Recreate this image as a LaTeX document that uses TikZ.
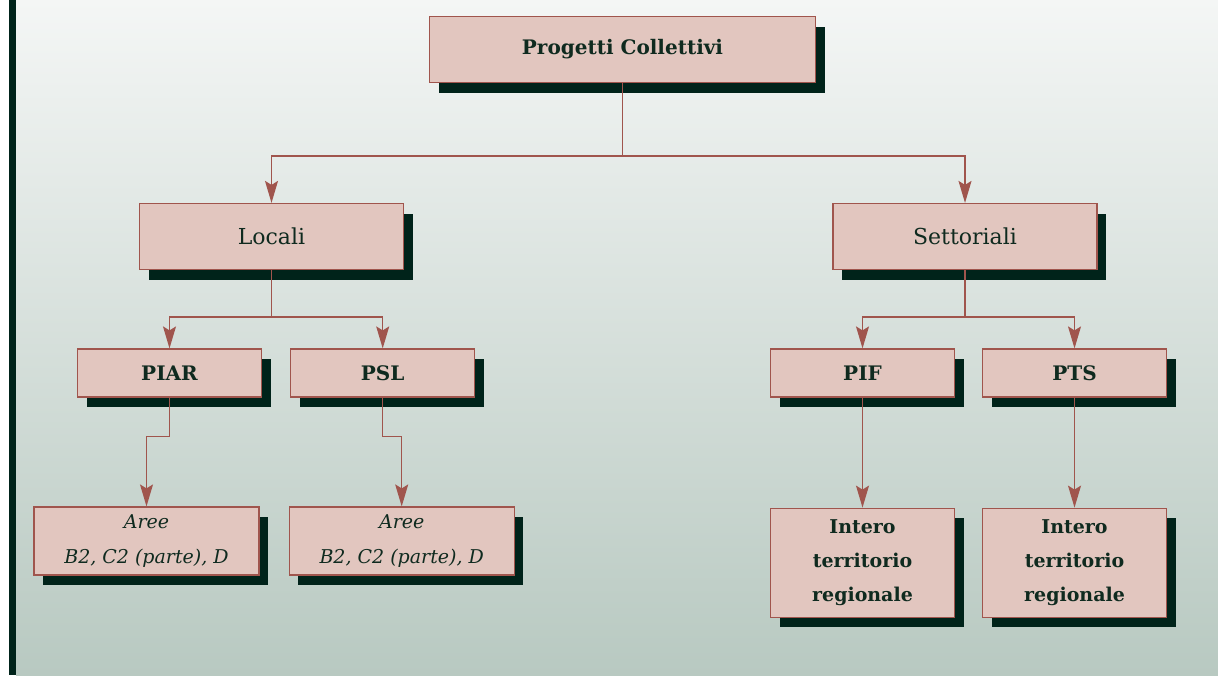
\documentclass[tikz,border=0pt]{standalone}
\usepackage{fontspec}
\setmainfont{DejaVu Serif}
\usetikzlibrary{arrows.meta, positioning, calc, shadows}
\definecolor{kbgtop}{HTML}{F4F6F5}
\definecolor{kbgbot}{HTML}{B8C9C1}
\definecolor{kshadow}{HTML}{00231A}
\definecolor{kfill}{HTML}{E2C6BF}
\definecolor{kline}{HTML}{A0554D}
\definecolor{ktext}{HTML}{0F2A1F}

\begin{document}
\begin{tikzpicture}[x=0.5pt, y=-0.5pt]

\tikzstyle{box} = [rectangle, draw=kline, line width=0.6pt, fill=kfill, text=ktext, inner sep=2pt, align=center, drop shadow={shadow xshift=4.5pt, shadow yshift=-5pt, fill=kshadow, opacity=1}]
\tikzstyle{topbox} = [box, minimum width=193pt, minimum height=33pt, font=\bfseries\fontsize{10}{12}\selectfont]
\tikzstyle{midbox} = [box, minimum width=132pt, minimum height=33pt, font=\fontsize{11}{13}\selectfont]
\tikzstyle{subbox} = [box, minimum width=92pt, minimum height=24pt, font=\bfseries\fontsize{10}{12}\selectfont]
\tikzstyle{areabox} = [box, minimum width=112.5pt, minimum height=34pt, font=\itshape\fontsize{9.5}{17.5}\selectfont]
\tikzstyle{terrbox} = [box, minimum width=92pt, minimum height=54.5pt, font=\bfseries\fontsize{9.5}{17}\selectfont]
\tikzstyle{line} = [kline, line width=0.65pt]
\tikzstyle{arrow} = [line, -{Stealth[length=11pt, width=6.5pt, inset=2pt]}]

% Background
\useasboundingbox (0,0) rectangle (1218,675);
\fill[white] (0,0) rectangle (9,675);
\shade[top color=kbgtop, bottom color=kbgbot] (16,0) rectangle (1218,675);
\fill[kshadow] (9,0) rectangle (16,675);

% Level 1
\node[topbox] (progetti) at (622.5,49.5) {Progetti Collettivi};

% Level 2
\node[midbox] (locali) at (271.5,236.5) {Locali};
\node[midbox] (settoriali) at (965,236.5) {Settoriali};

% Level 3
\node[subbox] (piar) at (169.5,373) {PIAR};
\node[subbox, right=14pt of piar] (psl) {PSL};
\node[subbox] (pif) at (862.5,373) {PIF};
\node[subbox] (pts) at (1074.5,373) {PTS};

% Level 4
\node[areabox] (areeA) at (146.5,541) {Aree\\B2, C2 (parte), D};
\node[areabox, right=14.5pt of areeA] (areeB) {Aree\\B2, C2 (parte), D};
\node[terrbox, below=55pt of pif] (terrA) {Intero\\territorio\\regionale};
\node[terrbox, below=55pt of pts] (terrB) {Intero\\territorio\\regionale};

% Connectors
\coordinate (busA) at ($(progetti.south)+(0,73)$);
\draw[line] (progetti) -- (busA);
\draw[arrow] (busA) -| (locali);
\draw[arrow] (busA) -| (settoriali);

\coordinate (busB) at ($(locali.south)+(0,47)$);
\draw[line] (locali) -- (busB);
\draw[arrow] (busB) -| (piar);
\draw[arrow] (busB) -| (psl);

\coordinate (busC) at ($(settoriali.south)+(0,47)$);
\draw[line] (settoriali) -- (busC);
\draw[arrow] (busC) -| (pif);
\draw[arrow] (busC) -| (pts);

\draw[arrow] (piar.south) -- ++(0,39) -| (areeA);
\draw[arrow] (psl.south) -- ++(0,39) -| (areeB);
\draw[arrow] (pif) -- (terrA);
\draw[arrow] (pts) -- (terrB);

\end{tikzpicture}
\end{document}
